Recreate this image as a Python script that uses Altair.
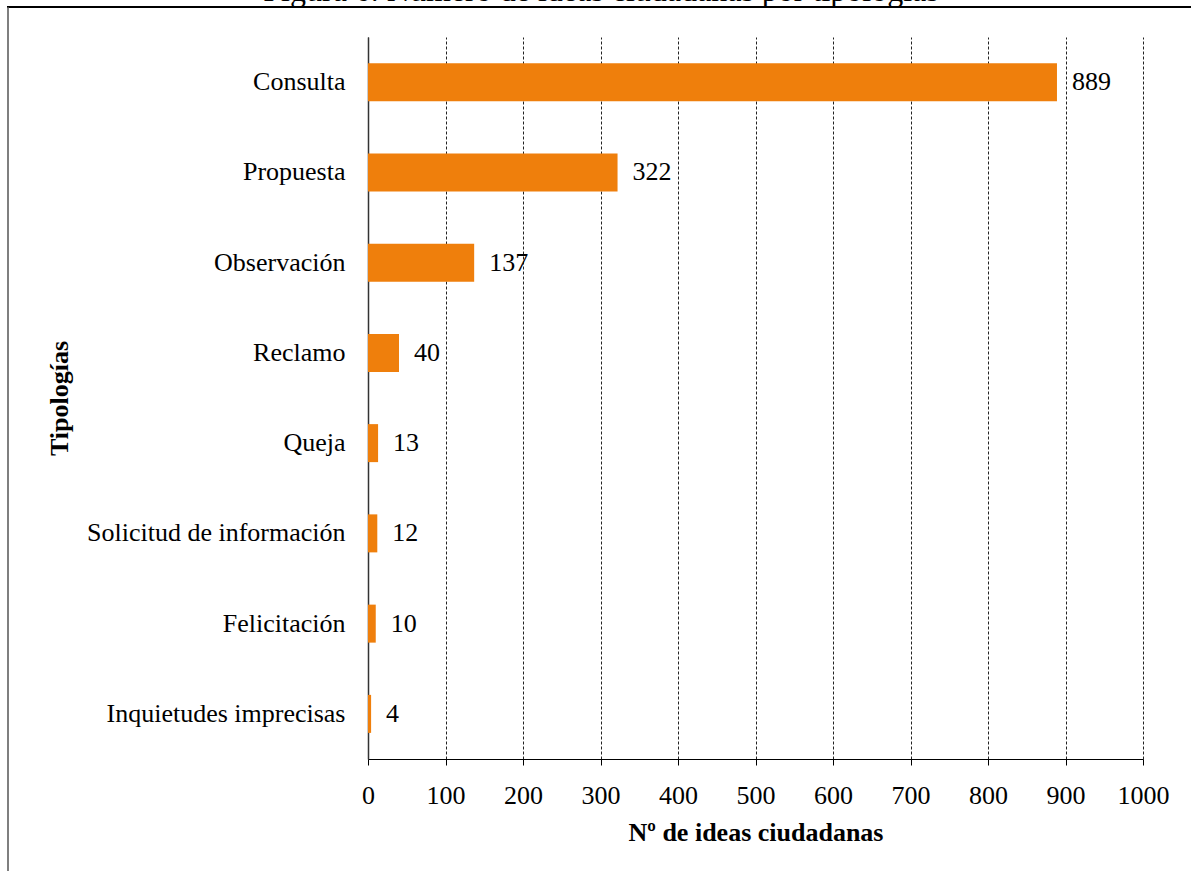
import altair as alt
import pandas as pd

# Number of citizen ideas by typology
tipologias = [
    "Consulta",
    "Propuesta",
    "Observación",
    "Reclamo",
    "Queja",
    "Solicitud de información",
    "Felicitación",
    "Inquietudes imprecisas",
]
ideas = [889, 322, 137, 40, 13, 12, 10, 4]
x_ticks = [0, 100, 200, 300, 400, 500, 600, 700, 800, 900, 1000]
caption = "Figura 6. Número de ideas ciudadanas por tipologías"

df = pd.DataFrame({"tipologia": tipologias, "ideas": ideas})

FONT = "Liberation Serif"
FS = 26
ORANGE = "#EF7F0C"

x_enc = alt.X(
    "ideas:Q",
    scale=alt.Scale(domain=[0, 1000], nice=False),
    axis=alt.Axis(
        values=x_ticks,
        format="d",
        labelFlush=False,
        labelOverlap=False,
        labelBound=False,
        title="Nº de ideas ciudadanas",
        titleFont=FONT,
        titleFontSize=FS,
        titleFontWeight="bold",
        titleColor="black",
        titleY=81,
        titleBaseline="alphabetic",
        labelFont=FONT,
        labelFontSize=FS,
        labelColor="black",
        labelPadding=17,
        tickSize=6,
        tickColor="black",
        domainColor="black",
        grid=True,
        gridColor="#222222",
        gridDash=[3, 2],
        gridWidth=1,
    ),
)
y_enc = alt.Y(
    "tipologia:N",
    sort=tipologias,
    axis=alt.Axis(
        title="Tipologías",
        titleFont=FONT,
        titleFontSize=FS,
        titleFontWeight="bold",
        titleColor="black",
        titleX=-301,
        titleBaseline="alphabetic",
        labelFont=FONT,
        labelFontSize=FS,
        labelColor="black",
        labelPadding=23,
        ticks=False,
        domainColor="#333333",
        domainWidth=1.5,
        labelLimit=400,
    ),
)

bars = alt.Chart(df).mark_bar(color=ORANGE, size=38).encode(x=x_enc, y=y_enc)

labels = alt.Chart(df).mark_text(
    align="left", baseline="middle", dx=15, font=FONT, fontSize=FS, color="black"
).encode(
    x=alt.X("ideas:Q"),
    y=alt.Y("tipologia:N", sort=tipologias),
    text=alt.Text("ideas:Q"),
)

one = alt.Data(values=[{"t": caption}])

# Figure caption sitting above the outer frame
caption_mark = alt.Chart(one).mark_text(
    align="center", baseline="alphabetic", font=FONT, fontSize=32, color="black"
).encode(x=alt.value(233), y=alt.value(-36.5), text="t:N")

# Outer frame lines
frame_top = alt.Chart(one).mark_rule(color="black", strokeWidth=2).encode(
    x=alt.value(-361), x2=alt.value(900), y=alt.value(-30)
)
frame_left = alt.Chart(one).mark_rule(color="#555555", strokeWidth=1.5).encode(
    x=alt.value(-360), y=alt.value(-30), y2=alt.value(900)
)

chart = (
    alt.layer(bars, labels, caption_mark, frame_top, frame_left)
    .properties(
        width=775,
        height=722,
        autosize=alt.AutoSizeParams(type="none"),
        padding={"left": 368, "top": 37, "right": 48, "bottom": 112},
        background="white",
    )
    .configure_view(stroke=None)
)

chart.save("out.html", embed_options={"renderer": "svg", "actions": False})
